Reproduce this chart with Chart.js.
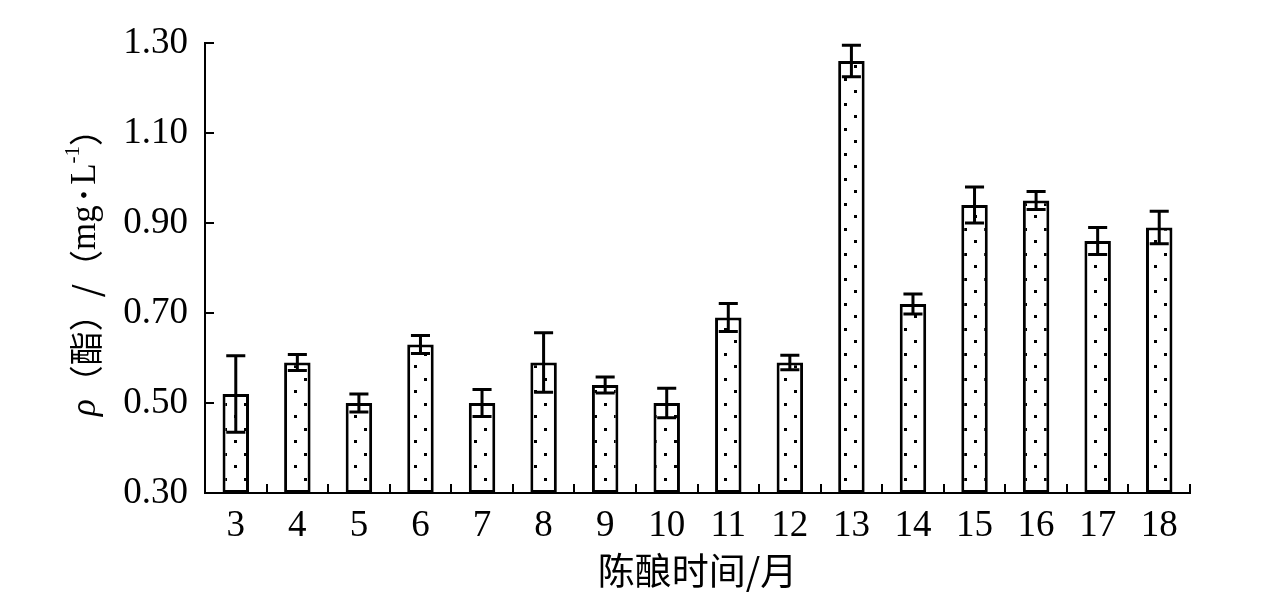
<!DOCTYPE html>
<html lang="zh">
<head>
<meta charset="UTF-8">
<title>陈酿时间与酯含量</title>
<script src="https://cdn.jsdelivr.net/npm/chart.js"></script>
<style>
    body { margin: 0; background: #fff; }
    #chart { display: block; }
</style>
</head>
<body>
<canvas id="chart" width="1276" height="597"></canvas>
<script>
    // 陈酿时间 (月)
    const months = ['3','4','5','6','7','8','9','10','11','12','13','14','15','16','17','18'];
    // 酯含量 mg/L
    const esterValues = [0.52, 0.59, 0.50, 0.63, 0.50, 0.59, 0.54, 0.50, 0.69, 0.59, 1.26, 0.72, 0.94, 0.95, 0.86, 0.89];
    // 误差
    const esterErrors = [0.085, 0.018, 0.02, 0.02, 0.03, 0.066, 0.018, 0.033, 0.031, 0.016, 0.035, 0.022, 0.04, 0.02, 0.03, 0.036];
    const yTicks = [0.30, 0.50, 0.70, 0.90, 1.10, 1.30];

    const serif = "'Liberation Serif', 'Noto Sans CJK SC', serif";
    const cjk = "'Noto Sans CJK SC', sans-serif";

    // dotted fill
    function dotPattern() {
        const c = document.createElement('canvas');
        c.width = 20; c.height = 25;
        const g = c.getContext('2d');
        g.fillStyle = '#fff';
        g.fillRect(0, 0, 20, 25);
        g.fillStyle = '#000';
        g.fillRect(4, 3, 3, 3);
        g.fillRect(14, 15, 3, 3);
        return g.createPattern(c, 'repeat');
    }

    const errorBars = {
        id: 'errorBars',
        afterDatasetsDraw(chart) {
            const ctx = chart.ctx;
            const y = chart.scales.y;
            const meta = chart.getDatasetMeta(0);
            ctx.save();
            ctx.strokeStyle = '#000';
            ctx.lineWidth = 3;
            meta.data.forEach((bar, i) => {
                const v = esterValues[i], e = esterErrors[i];
                const top = y.getPixelForValue(v + e);
                const bot = y.getPixelForValue(v - e);
                const half = bar.width * 0.36;
                ctx.beginPath();
                ctx.moveTo(bar.x, top); ctx.lineTo(bar.x, bot);
                ctx.moveTo(bar.x - half, top); ctx.lineTo(bar.x + half, top);
                ctx.moveTo(bar.x - half, bot); ctx.lineTo(bar.x + half, bot);
                ctx.stroke();
            });
            ctx.restore();
        }
    };

    // y axis title with italic rho and superscript
    const yTitle = {
        id: 'yTitle',
        afterDraw(chart) {
            const ctx = chart.ctx;
            const area = chart.chartArea;
            const parts = [
                { t: 'ρ', f: "italic 35px " + serif, dy: 0 },
                { t: '（酯）/（', f: "34px " + cjk, dy: 0 },
                { t: 'mg', f: "35px " + serif, dy: 0 },
                { t: ' • ', f: "24px " + serif, dy: 0 },
                { t: 'L', f: "35px " + serif, dy: 0 },
                { t: '-1', f: "21px " + serif, dy: -13 },
                { t: '）', f: "34px " + cjk, dy: 0 }
            ];
            ctx.save();
            let w = 0;
            parts.forEach(p => { ctx.font = p.f; p.w = ctx.measureText(p.t).width; w += p.w; });
            ctx.translate(86, (area.top + area.bottom) / 2 - 4);
            ctx.rotate(-Math.PI / 2);
            ctx.fillStyle = '#000';
            ctx.textBaseline = 'middle';
            let x = -w / 2;
            parts.forEach(p => {
                ctx.font = p.f;
                ctx.fillText(p.t, x, p.dy);
                x += p.w;
            });
            ctx.restore();
        }
    };

    new Chart(document.getElementById('chart'), {
        type: 'bar',
        data: {
            labels: months,
            datasets: [{
                data: esterValues.map(v => [0.30, v]),
                backgroundColor: dotPattern(),
                borderColor: '#000',
                borderWidth: 3,
                borderSkipped: false,
                categoryPercentage: 1,
                barPercentage: 0.43
            }]
        },
        options: {
            responsive: false,
            animation: false,
            devicePixelRatio: 1,
            layout: { padding: { top: 43, right: 86, bottom: 0, left: 0 } },
            plugins: { legend: { display: false }, tooltip: { enabled: false } },
            scales: {
                x: {
                    grid: { offset: true, drawOnChartArea: false, tickLength: -9, color: '#000', lineWidth: 2 },
                    border: { color: '#000', width: 2 },
                    ticks: { color: '#000', font: { family: serif, size: 37 }, padding: 20, maxRotation: 0 },
                    title: { display: true, text: '陈酿时间/月', color: '#000', font: { family: cjk, size: 37 }, padding: { top: 0, bottom: 4 } },
                    afterFit(s) { s.height = 104; s.paddingLeft = 0; s.paddingRight = 0; }
                },
                y: {
                    min: 0.30, max: 1.30,
                    afterBuildTicks(s) { s.ticks = yTicks.map(v => ({ value: v })); },
                    grid: { drawOnChartArea: false, tickLength: -9, color: '#000', lineWidth: 2 },
                    border: { color: '#000', width: 2 },
                    ticks: { color: '#000', font: { family: serif, size: 37 }, padding: 26, callback: v => v.toFixed(2) },
                    afterFit(s) { s.width = 205; s.paddingTop = 0; s.paddingBottom = 0; }
                }
            }
        },
        plugins: [errorBars, yTitle]
    });
</script>
</body>
</html>
